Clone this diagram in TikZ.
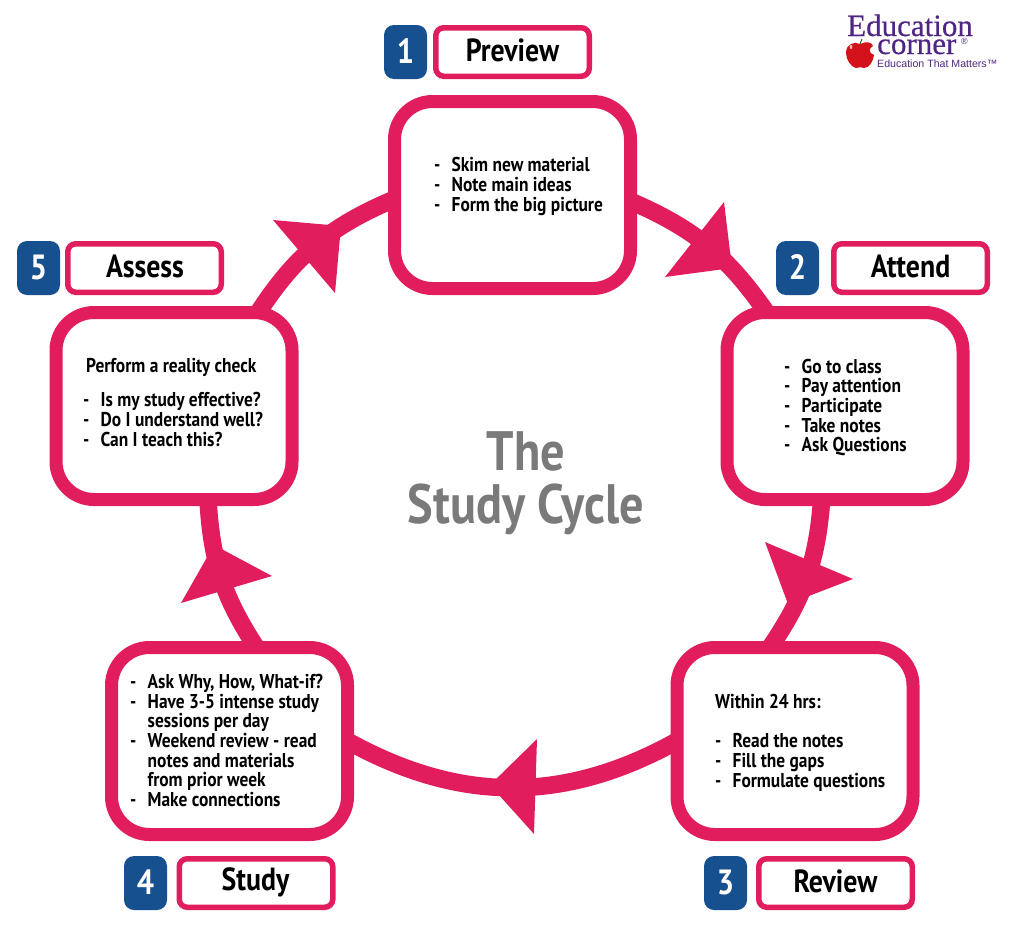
\documentclass[tikz,border=0pt]{standalone}
\usepackage{fontspec}
\usetikzlibrary{backgrounds}
\setmainfont{PT Sans}[BoldFont={PT Sans Bold},FakeStretch=0.87]
\newfontfamily\logoserif{Liberation Serif}[FakeBold=0.5]
\newfontfamily\logosans{Liberation Sans}
\definecolor{cyclepink}{HTML}{E21D5E}
\definecolor{numblue}{HTML}{17508F}
\definecolor{titlegray}{HTML}{7A7A7A}
\definecolor{logopurple}{HTML}{4F2683}
\definecolor{applered}{HTML}{D3121C}
\newcommand\dashline[1]{\makebox[17.5pt][l]{-}#1}
\newcommand\contline[1]{\hspace*{17.5pt}#1}
\tikzset{
  bigbox/.style={draw=cyclepink,fill=white,line width=13pt,rounded corners=38pt,
    minimum width=236pt,minimum height=187pt,outer sep=0pt,inner sep=0pt},
  labelbox/.style={draw=cyclepink,fill=white,line width=5.5pt,rounded corners=8pt,
    minimum width=153.5pt,minimum height=48.5pt,outer sep=0pt,inner sep=0pt},
  labeltext/.style={inner sep=0pt,text=black,font=\fontsize{32}{35}\selectfont\bfseries},
  numbox/.style={fill=numblue,rounded corners=10pt,text=white,
    minimum width=43pt,minimum height=54pt,outer sep=0pt,inner sep=0pt,
    font=\fontsize{35}{38}\selectfont\bfseries},
  bodytext/.style={anchor=west,align=left,inner sep=0pt,text=black,
    font=\fontsize{20}{19.7}\selectfont\bfseries},
  titletext/.style={text=titlegray,inner sep=0pt,font=\fontsize{55.5}{60}\selectfont\bfseries},
  cycleline/.style={draw=cyclepink,line width=17.5pt,line cap=round},
  headfill/.style={fill=cyclepink},
  logotext/.style={inner sep=0pt,text=logopurple,anchor=base west},
}
\begin{document}
\begin{tikzpicture}[x=1pt,y=-1pt]
\useasboundingbox (0,0) rectangle (1019,926);
% big boxes
\node[bigbox] (b1) at (512.5,195) {};
\node[bigbox] (b2) at (845,406) {};
\node[bigbox] (b3) at (795,741) {};
\node[bigbox] (b4) at (229.5,741) {};
\node[bigbox] (b5) at (174,406) {};
% connectors
\begin{scope}[on background layer]
\draw[cycleline] (b1.-3) to[bend left=16] (b2.130.5);
\draw[cycleline] (b2.256) to[bend left=15] (b3.105);
\draw[cycleline] (b3.180) to[bend left=29] (b4.0);
\draw[cycleline] (b4.74) to[bend left=15] (b5.290);
\draw[cycleline] (b5.48) to[bend left=17] (b1.182);
\end{scope}
% arrowheads
\fill[headfill] (724,202) -- (732,268) -- (665,277) -- cycle;
\fill[headfill] (765,542) -- (853,579) -- (788,604) -- cycle;
\fill[headfill] (537,739) -- (534,834) -- (490,785) -- cycle;
\fill[headfill] (272,576) -- (181,603) -- (214,545) -- cycle;
\fill[headfill] (273,220) -- (341,226) -- (335,293) -- cycle;
% label boxes
\node[numbox] (n1) at (405.5,52) {\raisebox{1pt}{1}};
\node[labelbox] (l1) at (512.5,52) {};
\node[labeltext] (lt1) at (512.5,50) {Preview};
\node[numbox] (n2) at (797.5,268) {\raisebox{1pt}{2}};
\node[labelbox] (l2) at (910.5,268) {};
\node[labeltext] (lt2) at (910.5,266) {Attend};
\node[numbox] (n3) at (725.5,883) {\raisebox{1pt}{3}};
\node[labelbox] (l3) at (835.5,883) {};
\node[labeltext] (lt3) at (835.5,881.5) {Review};
\node[numbox] (n4) at (145.5,883) {\raisebox{1pt}{4}};
\node[labelbox] (l4) at (256,883) {};
\node[labeltext] (lt4) at (255.5,882.5) {Study};
\node[numbox] (n5) at (38.5,268) {\raisebox{1pt}{5}};
\node[labelbox] (l5) at (144.5,268) {};
\node[labeltext] (lt5) at (145,266) {Assess};
% body text
\node[bodytext] (t1) at (434,186.5) {\dashline{Skim new material}\\\dashline{Note main ideas}\\\dashline{Form the big picture}};
\node[bodytext] (t2) at (784,407.5) {\dashline{Go to class}\\\dashline{Pay attention}\\\dashline{Participate}\\\dashline{Take notes}\\\dashline{Ask Questions}};
\node[bodytext] (t3) at (715,742.5) {Within 24 hrs:\\[19.7pt]\dashline{Read the notes}\\\dashline{Fill the gaps}\\\dashline{Formulate questions}};
\node[bodytext] (t4) at (130,740.5) {\dashline{Ask Why, How, What-if?}\\\dashline{Have 3-5 intense study}\\\contline{sessions per day}\\\dashline{Weekend review - read}\\\contline{notes and materials}\\\contline{from prior week}\\\dashline{Make connections}};
\node[bodytext] (t5) at (83,402.5) {\hspace*{3pt}Perform a reality check\\[14pt]\dashline{Is my study effective?}\\\dashline{Do I understand well?}\\\dashline{Can I teach this?}};
% title
\node[titletext] (title1) at (526,451) {The};
\node[titletext] (title2) at (526,509) {Study Cycle};
% logo
\node[logotext] (logo1) at (847,36) {\logoserif\fontsize{31}{31}\selectfont Education};
\node[logotext] (logo2) at (877,54) {\logoserif\fontsize{31}{31}\selectfont corner};
\node[logotext] (logo2r) at (961,44) {\logosans\fontsize{9}{9}\selectfont ®};
\node[logotext] (logo3) at (877,67) {\logosans\fontsize{10.6}{12.5}\selectfont Education That Matters™};
\fill[applered] (860,44) .. controls (866,41) and (872,42) .. (873,46)
  .. controls (869,48) and (868,53) .. (874,55)
  .. controls (873,62) and (869,68) .. (864,68)
  .. controls (862,67) and (859,67) .. (856,68)
  .. controls (851,67) and (846,60) .. (846,53)
  .. controls (846,44) and (854,41) .. (860,44) -- cycle;
\fill[white!70!applered] (851,47) ellipse (1.3 and 2.2);
\draw[black!70!green,line width=0.8pt] (860,44) -- (862,39);
\end{tikzpicture}
\end{document}
